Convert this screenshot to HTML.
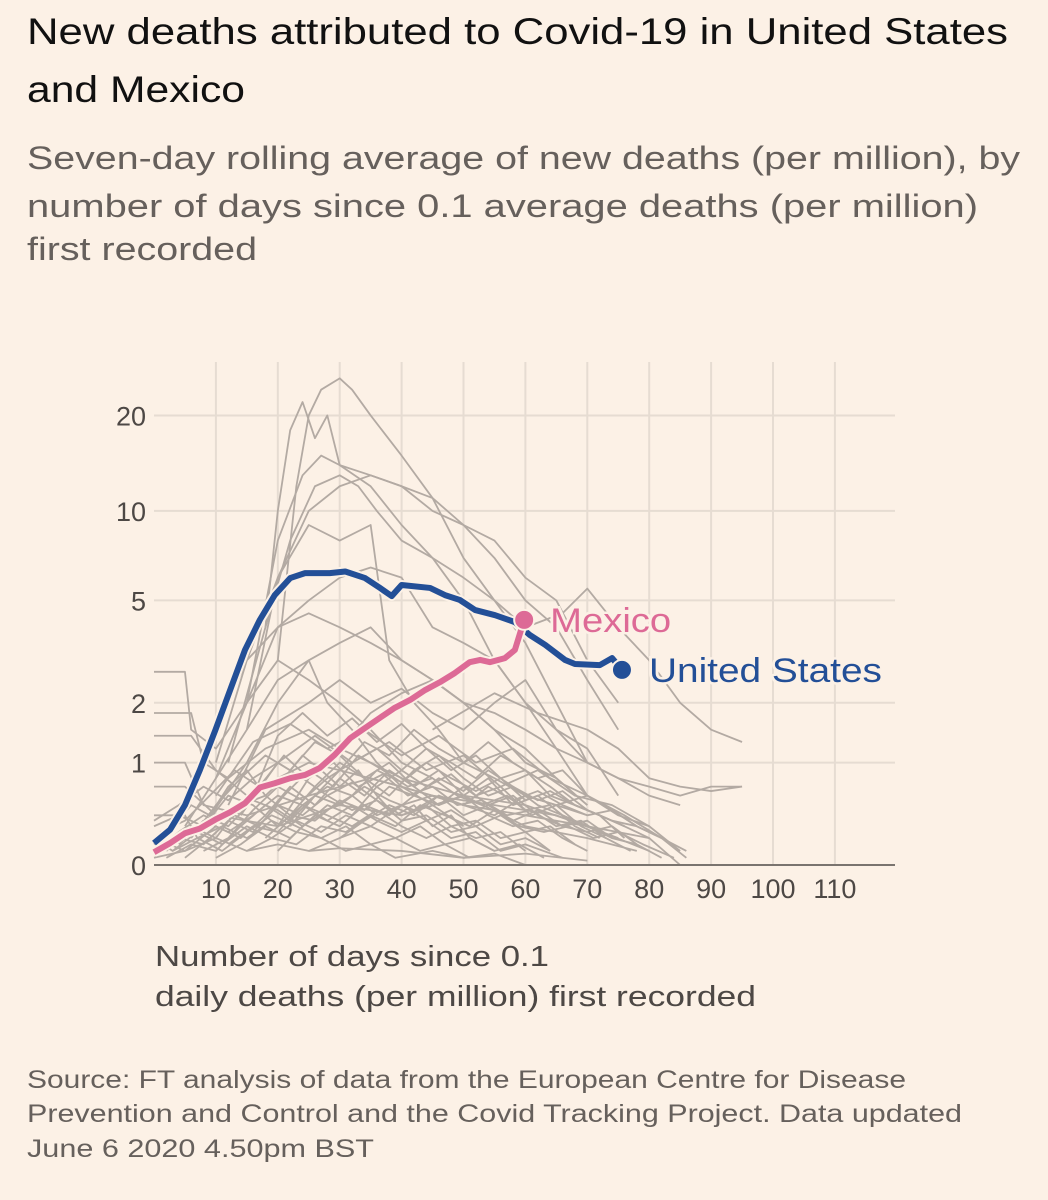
<!DOCTYPE html>
<html><head><meta charset="utf-8"><style>
html,body{margin:0;padding:0;background:#fcf1e6;}
svg{display:block;}
text{font-family:"Liberation Sans","DejaVu Sans",sans-serif;}
</style></head><body>
<svg id="chart" width="1048" height="1200" viewBox="0 0 1048 1200">
<rect width="1048" height="1200" fill="#fcf1e6"/>
<text x="27" y="44" font-size="37" fill="#111" textLength="981" lengthAdjust="spacingAndGlyphs">New deaths attributed to Covid-19 in United States</text>
<text x="27" y="102" font-size="37" fill="#111" textLength="218" lengthAdjust="spacingAndGlyphs">and Mexico</text>
<text x="27" y="169" font-size="32" fill="#66605c" textLength="993" lengthAdjust="spacingAndGlyphs">Seven-day rolling average of new deaths (per million), by</text>
<text x="27" y="217" font-size="32" fill="#66605c" textLength="951" lengthAdjust="spacingAndGlyphs">number of days since 0.1 average deaths (per million)</text>
<text x="27" y="260" font-size="32" fill="#66605c" textLength="230" lengthAdjust="spacingAndGlyphs">first recorded</text>
<g id="grid"></g>
<g id="gray"></g>
<g id="main"></g>
<g id="axes"></g>
<text x="155" y="966" font-size="29" fill="#4d4845" textLength="394" lengthAdjust="spacingAndGlyphs">Number of days since 0.1</text>
<text x="155" y="1006" font-size="29" fill="#4d4845" textLength="601" lengthAdjust="spacingAndGlyphs">daily deaths (per million) first recorded</text>
<text x="27" y="1088" font-size="25" fill="#66605c" textLength="879" lengthAdjust="spacingAndGlyphs">Source: FT analysis of data from the European Centre for Disease</text>
<text x="27" y="1122" font-size="25" fill="#66605c" textLength="935" lengthAdjust="spacingAndGlyphs">Prevention and Control and the Covid Tracking Project. Data updated</text>
<text x="27" y="1157" font-size="25" fill="#66605c" textLength="347" lengthAdjust="spacingAndGlyphs">June 6 2020 4.50pm BST</text>
</svg>
<script>
const xTicks=[10,20,30,40,50,60,70,80,90,100,110];
const yTicks=[0,1,2,5,10,20];
const usDays=[0,2.6,5,7.4,9.9,12.3,14.7,17.1,19.5,22,24.4,28.4,30.9,34.1,36.5,38.4,40,44.6,47,49.4,51.9,55.1,58.3,60.7,63.2,66.4,68,72,74,75.6];
const usValues=[0.16,0.27,0.5,0.9,1.49,2.27,3.29,4.26,5.22,5.98,6.22,6.22,6.3,5.98,5.53,5.18,5.66,5.53,5.22,5.02,4.62,4.43,4.18,3.75,3.44,3.01,2.9,2.87,3.06,2.75];
const mxDays=[0,2.6,5,7.4,9.9,12.3,14.7,17.1,19.5,22,24.4,26.8,29.2,31.7,34.1,36.5,38.9,41.4,43.8,46.2,48.6,51,52.7,54.3,56.7,58.3,59.8];
const mxValues=[0.09,0.16,0.24,0.28,0.36,0.43,0.52,0.69,0.74,0.8,0.84,0.93,1.11,1.36,1.53,1.71,1.9,2.06,2.27,2.45,2.67,2.95,3.01,2.95,3.06,3.29,4.26];
const otherSeries=[
[[20,3],[23,12],[25,20],[27,24],[30,26],[32,24],[35,20],[40,15],[45,11],[50,7],[55,5],[60,3.5],[65,2],[70,1]],
[[18,4],[20,10],[22,18],[24,22],[26,17],[28,20],[30,14],[35,12],[40,9],[45,7],[50,5],[55,3],[60,2],[65,1.2],[70,0.6]],
[[15,2],[20,8],[24,13],[27,15],[30,14],[35,13],[40,12],[45,10],[50,9],[55,7],[60,5],[65,4],[70,2.5],[75,1.5]],
[[15,1.5],[20,6],[25,10],[30,12],[35,13],[40,12],[45,11],[50,9],[55,8],[60,6],[65,5],[70,3],[75,2]],
[[12,1],[18,4],[22,8],[26,12],[30,13],[33,12],[36,10],[40,8],[45,7],[50,6],[55,5],[60,4],[66,4.5],[70,5.5],[75,4],[80,3],[85,2],[90,1.5],[95,1.3]],
[[10,1],[15,3],[20,6],[25,9],[30,8],[35,9],[38,3],[42,2],[46,1.5],[50,1],[55,0.8],[60,0.6],[65,0.5],[70,0.4]],
[[10,0.8],[15,2],[20,4],[25,5],[30,6],[35,6.5],[40,6],[45,4],[50,3.5],[55,3],[60,2],[65,1.5],[70,1],[75,0.8],[80,0.7],[85,0.6],[90,0.7],[95,0.7]],
[[5,0.5],[10,1.5],[15,3],[20,4],[25,4.5],[30,4],[35,3.5],[40,3],[45,2.5],[50,2],[55,1.8],[60,1.5],[65,1.2],[70,1],[75,0.8],[80,0.6],[85,0.5]],
[[5,0.3],[10,0.8],[15,1.5],[20,2.5],[25,3],[30,3.5],[35,4],[40,3],[45,2.5],[50,2],[55,1.5],[60,1],[65,0.8],[70,0.5]],
[[0,2.7],[5,2.7],[6,1.5],[10,1.2],[15,2],[20,3],[25,2.5],[30,2],[35,1.5],[40,1],[45,0.8]],
[[0,1.8],[6,1.8],[8,1],[12,0.8],[18,1.2],[25,1.5],[30,1.2],[35,1],[40,0.8],[50,0.6],[60,0.5],[70,0.3],[80,0.2],[85,0]],
[[0,1.4],[6,1.4],[10,0.9],[15,0.6],[20,0.8],[25,1],[30,0.9],[40,0.7],[50,0.5],[60,0.4],[70,0.3],[80,0.1]],
[[0,1.0],[5,1.0],[8,0.5],[15,0.4],[25,0.6],[35,0.8],[45,0.6],[55,0.5],[65,0.4],[75,0.2]],
[[0,0.7],[5,0.7],[10,0.4],[20,0.3],[30,0.5],[40,0.4],[50,0.6],[60,0.3],[70,0.2],[78,0.1]],
[[12,0.5],[18,1.5],[25,2],[30,2.5],[35,2],[40,2.3],[45,1.8],[50,1.5],[55,2],[60,2.5],[65,1.5],[70,1.2],[75,0.6]],
[[20,0.3],[25,0.8],[30,1.2],[35,1.8],[40,2.2],[45,2.5],[50,2],[55,1.5],[60,1.2],[65,0.8],[70,0.5]],
[[8,0.3],[15,1],[20,2],[25,3],[28,2],[32,1.5],[36,1],[40,0.7],[45,0.5],[50,0.3]],
[[0,0.1],[4,0.2],[8,0.15],[12,0.35],[16,0.25],[20,0.5],[24,0.4],[28,0.6],[32,0.45],[36,0.55],[40,0.35],[44,0.4],[48,0.25],[52,0.3],[56,0.15],[60,0.2],[64,0.1]],
[[0,0.05],[5,0.1],[10,0.3],[14,0.2],[18,0.4],[22,0.7],[26,0.5],[30,0.8],[34,0.6],[38,0.9],[42,0.7],[46,0.5],[50,0.6],[54,0.4],[58,0.3],[62,0.35],[66,0.2],[70,0.1]],
[[2,0.1],[6,0.3],[10,0.2],[14,0.5],[18,0.6],[22,0.4],[26,0.7],[30,1.0],[34,0.8],[38,0.6],[42,0.9],[46,1.1],[50,0.8],[54,0.6],[58,0.7],[62,0.5],[66,0.4],[70,0.3],[74,0.2]],
[[0,0.2],[3,0.1],[7,0.25],[11,0.15],[15,0.3],[19,0.2],[23,0.35],[27,0.25],[31,0.4],[35,0.3],[39,0.2],[43,0.3],[47,0.15],[51,0.2],[55,0.1],[59,0.15],[63,0.05]],
[[5,0.05],[9,0.2],[13,0.4],[17,0.3],[21,0.6],[25,0.9],[29,0.7],[33,1.1],[37,0.9],[41,0.7],[45,0.8],[49,0.6],[53,0.5],[57,0.6],[61,0.4],[65,0.5],[69,0.3],[73,0.2],[77,0.1]],
[[0,0.3],[4,0.4],[8,0.3],[12,0.6],[16,0.5],[20,0.3],[24,0.5],[28,0.4],[32,0.3],[36,0.45],[40,0.3],[44,0.2],[48,0.3],[52,0.2],[56,0.25],[60,0.1]],
[[10,0.05],[14,0.15],[18,0.3],[22,0.2],[26,0.4],[30,0.3],[34,0.5],[38,0.4],[42,0.6],[46,0.5],[50,0.7],[54,0.5],[58,0.6],[62,0.4],[66,0.3],[70,0.35],[74,0.2],[78,0.15],[82,0.05]],
[[0,0.15],[3,0.3],[6,0.5],[9,0.4],[12,0.7],[15,0.9],[18,0.6],[21,0.8],[24,1.1],[27,0.9],[30,0.7],[33,0.9],[36,0.6],[39,0.4],[42,0.5],[45,0.3],[48,0.4],[51,0.2],[55,0.1]],
[[15,0.1],[19,0.2],[23,0.15],[27,0.3],[31,0.25],[35,0.4],[39,0.3],[43,0.5],[47,0.4],[51,0.3],[55,0.45],[59,0.3],[63,0.25],[67,0.3],[71,0.2],[75,0.25],[79,0.15],[84,0.05]],
[[0,0.4],[5,0.4],[7,0.2],[11,0.3],[15,0.2],[19,0.35],[23,0.25],[27,0.2],[31,0.3],[35,0.15],[39,0.2],[43,0.1],[47,0.15],[51,0.05]],
[[20,0.1],[24,0.3],[28,0.5],[32,0.4],[36,0.7],[40,0.9],[44,1.2],[48,1.0],[52,0.8],[56,1.1],[60,0.9],[64,0.7],[68,0.5],[72,0.4],[76,0.2]],
[[3,0.1],[7,0.2],[11,0.1],[15,0.25],[19,0.4],[23,0.3],[27,0.2],[31,0.1],[35,0.15],[39,0.05],[45,0.1],[50,0.05],[55,0.08],[60,0]],
[[25,0.1],[30,0.2],[35,0.3],[40,0.5],[45,0.6],[50,0.5],[55,0.4],[60,0.6],[65,0.5],[70,0.6],[75,0.4],[80,0.3],[85,0.1]],
[[0,0.2],[5,0.1],[10,0.2],[15,0.1],[20,0.15],[25,0.1],[30,0.12],[40,0.1],[50,0.05],[60,0.08],[70,0.03]],
[[45,1.5],[55,2.2],[62,1.8],[70,1.5],[75,1.2],[80,0.8],[85,0.7],[90,0.65],[95,0.7]],
[[10,0.6],[16,1.3],[22,1.6],[28,1.2],[34,1.5],[40,1.1],[46,1.4],[52,1.0],[58,1.2],[64,0.8],[70,0.6],[76,0.4],[82,0.2]],
[[14,0.4],[20,1.0],[26,1.4],[32,1.0],[38,1.3],[44,0.9],[50,1.1],[56,0.7],[62,0.9],[68,0.6],[74,0.5],[80,0.3]],
[[6,0.2],[10,0.5],[14,0.8],[18,1.1],[22,0.9],[26,1.3],[30,1.1],[34,0.8],[38,1.0],[42,0.7],[46,0.9],[50,0.6],[54,0.8],[58,0.5],[62,0.6],[66,0.4],[70,0.3]],
[[2,0.05],[6,0.15],[10,0.1],[14,0.3],[18,0.5],[22,0.35],[26,0.6],[30,0.5],[34,0.7],[38,0.55],[42,0.45],[46,0.6],[50,0.4],[54,0.5],[58,0.35],[62,0.45],[66,0.3],[70,0.25],[74,0.3],[78,0.15]],
[[8,0.1],[12,0.2],[16,0.45],[20,0.7],[24,0.55],[28,0.8],[32,1.0],[36,1.2],[40,0.9],[44,0.7],[48,0.85],[52,0.6],[56,0.7],[60,0.45],[64,0.5],[68,0.3],[72,0.2]],
[[0,0.1],[4,0.25],[8,0.4],[12,0.3],[16,0.55],[20,0.45],[24,0.3],[28,0.45],[32,0.6],[36,0.4],[40,0.5],[44,0.35],[48,0.45],[52,0.3],[56,0.4],[60,0.25],[64,0.3],[68,0.15]],
[[12,0.15],[16,0.3],[20,0.25],[24,0.5],[28,0.7],[32,0.6],[36,0.9],[40,0.75],[44,1.0],[48,0.8],[52,0.65],[56,0.8],[60,0.55],[64,0.65],[68,0.5],[72,0.4],[76,0.3],[80,0.2]],
[[0,0.35],[4,0.5],[8,0.7],[12,0.55],[16,0.8],[20,1.0],[24,0.8],[28,0.6],[32,0.75],[36,0.55],[40,0.4],[44,0.5],[48,0.3],[52,0.35],[56,0.2],[60,0.25],[64,0.1]],
[[18,0.2],[22,0.4],[26,0.35],[30,0.55],[34,0.45],[38,0.7],[42,0.6],[46,0.8],[50,0.65],[54,0.9],[58,0.7],[62,0.55],[66,0.65],[70,0.45],[74,0.35],[78,0.3],[82,0.2],[86,0.1]],
[[4,0.15],[8,0.35],[12,0.25],[16,0.4],[20,0.6],[24,0.5],[28,0.35],[32,0.5],[36,0.35],[40,0.25],[44,0.35],[48,0.2],[52,0.25],[56,0.1],[60,0.15],[66,0.05]],
[[16,0.6],[20,1.4],[24,1.8],[28,1.4],[32,1.7],[36,1.3],[40,1.6],[44,1.2],[48,0.9],[52,1.1],[56,0.8],[60,0.9],[64,0.6],[68,0.5],[72,0.4],[76,0.3]],
[[22,0.3],[26,0.6],[30,0.9],[34,1.3],[38,1.1],[42,1.5],[46,1.2],[50,1.0],[54,1.3],[58,1.0],[62,0.8],[66,0.9],[70,0.6],[74,0.45],[78,0.3]],
[[1,0.25],[5,0.35],[9,0.6],[13,0.9],[17,0.7],[21,1.1],[25,0.8],[29,1.0],[33,0.7],[37,0.85],[41,0.6],[45,0.7],[49,0.5],[53,0.55],[57,0.4],[61,0.45],[65,0.3],[69,0.35],[73,0.2]],
[[30,0.2],[34,0.35],[38,0.5],[42,0.4],[46,0.6],[50,0.5],[54,0.7],[58,0.55],[62,0.65],[66,0.5],[70,0.4],[74,0.45],[78,0.3],[82,0.2],[86,0.05]]
];
const NS='http://www.w3.org/2000/svg';
const X0=154, PX=6.19, Y0=865, YS=340;
function xs(d){return X0+d*PX;}
function ys(v){return Y0-YS*Math.log10(1+v);}
function mk(tag,attrs,parent){const e=document.createElementNS(NS,tag);for(const k in attrs)e.setAttribute(k,attrs[k]);parent.appendChild(e);return e;}
const grid=document.getElementById('grid'),gray=document.getElementById('gray'),main=document.getElementById('main'),axes=document.getElementById('axes');
xTicks.forEach(t=>{
  const l=mk('line',{x1:xs(t),x2:xs(t),y1:362,y2:Y0,stroke:'#e6dcd2','stroke-width':2},grid);
  
  
  const tx=mk('text',{x:xs(t),y:898,'font-size':27,fill:'#4d4845','text-anchor':'middle'},axes);
  tx.textContent=t;
  
  
});
yTicks.forEach(t=>{
  if(t>0){
    const l=mk('line',{x1:X0,x2:895,y1:ys(t),y2:ys(t),stroke:'#e6dcd2','stroke-width':2},grid);
    
    
  }
  const tx=mk('text',{x:146,y:ys(t)+10,'font-size':27,fill:'#4d4845','text-anchor':'end'},axes);
  tx.textContent=t;
  
  
});
const ax=mk('line',{x1:X0,x2:895,y1:Y0,y2:Y0,stroke:'#7a746f','stroke-width':2},axes);


otherSeries.forEach(s=>{
  const p=mk('polyline',{points:s.map(q=>xs(q[0])+','+ys(q[1])).join(' '),fill:'none',stroke:'#b3aaa3','stroke-width':1.8,'stroke-linejoin':'round'},gray);
  
  
});
function drawMain(days,vals,color,name){
  const pts=days.map((d,i)=>xs(d)+','+ys(vals[i])).join(' ');
  mk('polyline',{points:pts,fill:'none',stroke:'#fcf1e6','stroke-width':10,'stroke-linejoin':'round'},main);
  const p=mk('polyline',{points:pts,fill:'none',stroke:color,'stroke-width':6,'stroke-linejoin':'round'},main);
  
  
  const n=days.length-1;
  const c=mk('circle',{cx:xs(days[n]),cy:ys(vals[n]),r:10,fill:color,stroke:'#fcf1e6','stroke-width':2},main);
  
  
  return [xs(days[n]),ys(vals[n])];
}
const us=drawMain(usDays,usValues,'#234f97','united-states');
const mx=drawMain(mxDays,mxValues,'#dd6a96','mexico');
const lm=mk('text',{x:mx[0]+26,y:mx[1]+12,'font-size':34,fill:'#dd6a96',stroke:'#fcf1e6','stroke-width':5,'paint-order':'stroke',textLength:121,lengthAdjust:'spacingAndGlyphs'},main);
lm.textContent='Mexico';


const lu=mk('text',{x:us[0]+27,y:us[1]+12,'font-size':34,fill:'#234f97',stroke:'#fcf1e6','stroke-width':5,'paint-order':'stroke',textLength:233,lengthAdjust:'spacingAndGlyphs'},main);
lu.textContent='United States';


</script>
</body></html>
